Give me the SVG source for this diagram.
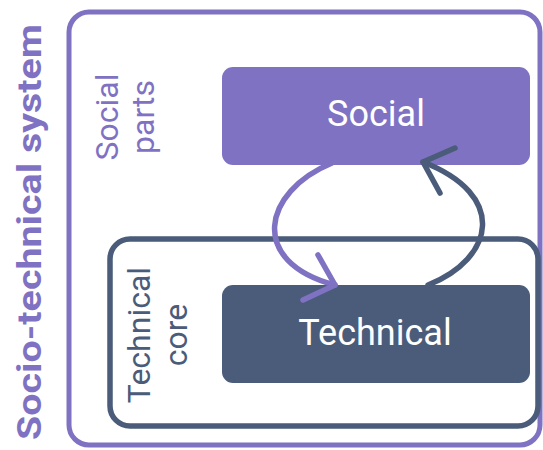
<svg xmlns="http://www.w3.org/2000/svg" width="543" height="450" viewBox="0 0 543 450">
<style>
.purple-stroke{fill:none;stroke:#7f72c3;}
.dark-stroke{fill:none;stroke:#4a5c7a;}
.box-label{font-family:Roboto,"Liberation Sans",sans-serif;font-size:36px;fill:#ffffff;text-anchor:middle;}
.side{font-family:Roboto,"Liberation Sans",sans-serif;font-size:32px;text-anchor:middle;}
.conn{fill:none;stroke-width:5.5;stroke-linecap:round;stroke-linejoin:round;}
</style>
<rect width="543" height="450" fill="#ffffff"/>
<g id="socio-technical-system">
  <rect x="69" y="12" width="471" height="433" rx="20" class="purple-stroke" stroke-width="5" fill="#ffffff"/>
  <text transform="translate(40.5,232) rotate(-90)" font-family="Roboto,'Liberation Sans',sans-serif" font-size="34" font-weight="bold" fill="#7f72c3" text-anchor="middle" textLength="416" lengthAdjust="spacingAndGlyphs">Socio-technical system</text>
  <text transform="translate(118,117) rotate(-90)" class="side" fill="#7f72c3"><tspan x="0" y="0">Social</tspan><tspan x="0" y="36">parts</tspan></text>
</g>
<g id="technical-core">
  <rect x="110" y="239" width="428" height="187" rx="20" class="dark-stroke" stroke-width="5.5"/>
  <text transform="translate(150,335) rotate(-90)" class="side" fill="#4a5c7a" font-size="33"><tspan x="0" y="0">Technical</tspan><tspan x="0" y="37">core</tspan></text>
</g>
<g id="social">
  <rect x="222" y="67" width="308" height="98" rx="11" fill="#7f72c3"/>
  <text x="376" y="126" class="box-label">Social</text>
</g>
<g id="technical">
  <rect x="222" y="285" width="308" height="98" rx="11" fill="#4a5c7a"/>
  <text x="375" y="345" class="box-label">Technical</text>
</g>
<g id="connectors">
  <path class="conn" stroke="#7f72c3" d="M332,163 C262,192 248,262 335,285"/>
  <path class="conn" stroke="#7f72c3" d="M318,255 L335,285 L303,300"/>
  <path class="conn" stroke="#4a5c7a" d="M428,285 C495,258 508,195 423,162"/>
  <path class="conn" stroke="#4a5c7a" d="M455,148 L423,162 L440,193"/>
</g>
</svg>
